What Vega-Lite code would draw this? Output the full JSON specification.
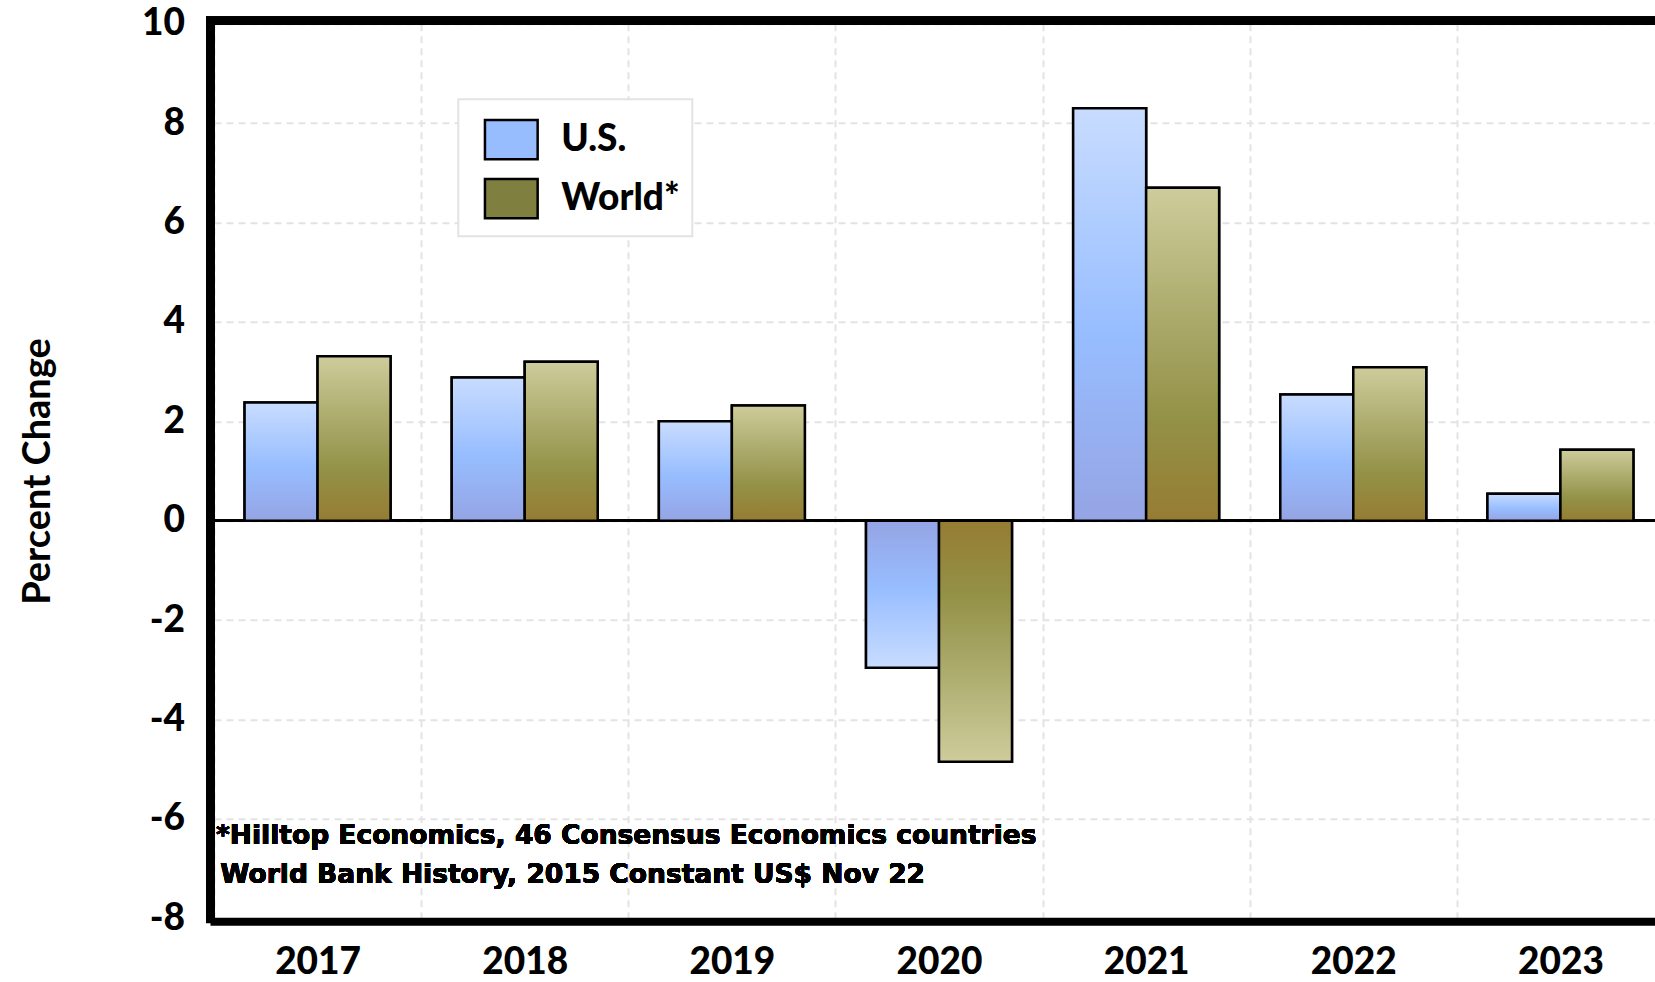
{
  "$schema": "https://vega.github.io/schema/vega-lite/v6.json",
  "autosize": {"type": "none"},
  "width": 1445,
  "height": 894.6,
  "padding": {"left": 210, "top": 23.7, "right": 0, "bottom": 63.7},
  "background": "white",
  "config": {
    "view": {"stroke": null},
    "font": "Lato",
    "legend": {
      "orient": "none",
      "legendX": 248.3,
      "legendY": 75.6,
      "direction": "vertical",
      "padding": 12.3,
      "strokeColor": "#e3e3e3",
      "strokeWidth": 2,
      "fillColor": "white",
      "symbolType": "M-1,-0.745H1V0.745H-1Z",
      "symbolSize": 2777,
      "symbolStrokeColor": "black",
      "symbolStrokeWidth": 2.5,
      "symbolOffset": 12.7,
      "labelFont": "Lato",
      "labelFontSize": 37,
      "labelFontWeight": 900,
      "labelColor": "black",
      "labelOffset": 22,
      "rowPadding": 6,
      "labelLimit": 400
    }
  },
  "data": {
    "values": [
      {"year": "2017", "series": "U.S.", "value": 2.38},
      {"year": "2017", "series": "World*", "value": 3.31},
      {"year": "2018", "series": "U.S.", "value": 2.88},
      {"year": "2018", "series": "World*", "value": 3.2},
      {"year": "2019", "series": "U.S.", "value": 2.0},
      {"year": "2019", "series": "World*", "value": 2.32},
      {"year": "2020", "series": "U.S.", "value": -2.96},
      {"year": "2020", "series": "World*", "value": -4.85},
      {"year": "2021", "series": "U.S.", "value": 8.3},
      {"year": "2021", "series": "World*", "value": 6.7},
      {"year": "2022", "series": "U.S.", "value": 2.54},
      {"year": "2022", "series": "World*", "value": 3.09},
      {"year": "2023", "series": "U.S.", "value": 0.54},
      {"year": "2023", "series": "World*", "value": 1.43}
    ]
  },
  "layer": [
    {
      "mark": {"type": "rule", "color": "black", "strokeWidth": 2},
      "encoding": {
        "y": {"datum": 0, "type": "quantitative", "scale": {"domain": [-8, 10], "nice": false, "zero": true}}
      }
    },
    {
      "mark": {"type": "rule", "color": "black", "strokeWidth": 8, "strokeCap": "square", "yOffset": -3},
      "encoding": {
        "y": {"datum": 10, "type": "quantitative"}
      }
    },
    {
      "mark": {"type": "bar", "stroke": "black", "strokeWidth": 2.5},
      "encoding": {
        "x": {
          "field": "year",
          "type": "nominal",
          "scale": {"range": [4, 1454], "paddingInner": 0, "paddingOuter": 0},
          "axis": {
            "title": null,
            "orient": "bottom",
            "offset": 3,
            "domain": true,
            "domainColor": "black",
            "domainWidth": 8,
            "domainCap": "square",
            "ticks": false,
            "tickSize": 0,
            "tickBand": "extent",
            "labelAngle": 0,
            "labelFont": "Lato",
            "labelFontSize": 37,
            "labelFontWeight": 900,
            "labelColor": "black",
            "labelPadding": 23,
            "grid": true,
            "gridColor": "#e3e3e3",
            "gridWidth": 2,
            "gridDash": [7, 5]
          }
        },
        "xOffset": {"field": "series", "type": "nominal", "scale": {"paddingInner": 0, "paddingOuter": 0.419}},
        "y": {
          "field": "value",
          "type": "quantitative",
          "axis": {
            "title": "Percent Change",
            "values": [-8, -6, -4, -2, 0, 2, 4, 6, 8, 10],
            "labelExpr": "'' + datum.value",
            "domain": true,
            "domainColor": "black",
            "domainWidth": 9,
            "domainCap": "square",
            "ticks": false,
            "tickSize": 0,
            "labelFont": "Lato",
            "labelFontSize": 37,
            "labelFontWeight": 900,
            "labelColor": "black",
            "labelPadding": 25.5,
            "labelOverlap": false,
            "grid": true,
            "gridColor": "#e3e3e3",
            "gridWidth": 2,
            "gridDash": [7, 5],
            "titleFont": "Lato",
            "titleFontSize": 38,
            "titleFontWeight": "bold",
            "titleColor": "black",
            "titleAngle": 270,
            "titleAlign": "center",
            "titleBaseline": "alphabetic",
            "titleX": -160.7,
            "titleY": 447.3
          }
        },
        "color": {
          "field": "series",
          "type": "nominal",
          "scale": {"domain": ["U.S.", "World*"], "range": ["#97bdff", "#7f7f40"]},
          "legend": {"title": null}
        }
      }
    },
    {
      "mark": {"type": "bar", "stroke": "black", "strokeWidth": 2.5},
      "encoding": {
        "x": {"field": "year", "type": "nominal"},
        "xOffset": {"field": "series", "type": "nominal"},
        "y": {"field": "value", "type": "quantitative"},
        "fill": {
          "condition": [
            {
              "test": "datum.series === 'U.S.' && datum.value < 0",
              "value": {
                "gradient": "linear", "x1": 0, "y1": 1, "x2": 0, "y2": 0,
                "stops": [
                  {"offset": 0, "color": "#c8dcff"},
                  {"offset": 0.55, "color": "#97bdff"},
                  {"offset": 1, "color": "#95a4e4"}
                ]
              }
            },
            {
              "test": "datum.series === 'U.S.'",
              "value": {
                "gradient": "linear", "x1": 0, "y1": 0, "x2": 0, "y2": 1,
                "stops": [
                  {"offset": 0, "color": "#c8dcff"},
                  {"offset": 0.55, "color": "#97bdff"},
                  {"offset": 1, "color": "#95a4e4"}
                ]
              }
            },
            {
              "test": "datum.value < 0",
              "value": {
                "gradient": "linear", "x1": 0, "y1": 1, "x2": 0, "y2": 0,
                "stops": [
                  {"offset": 0, "color": "#cecc9b"},
                  {"offset": 0.45, "color": "#a6a564"},
                  {"offset": 0.7, "color": "#939146"},
                  {"offset": 1, "color": "#967c33"}
                ]
              }
            }
          ],
          "value": {
            "gradient": "linear", "x1": 0, "y1": 0, "x2": 0, "y2": 1,
            "stops": [
              {"offset": 0, "color": "#cecc9b"},
              {"offset": 0.45, "color": "#a6a564"},
              {"offset": 0.7, "color": "#939146"},
              {"offset": 1, "color": "#967c33"}
            ]
          }
        }
      }
    },
    {
      "mark": {
        "type": "text",
        "text": "*Hilltop Economics, 46 Consensus Economics countries",
        "font": "DejaVu Sans",
        "fontSize": 26.5,
        "fontWeight": "bold",
        "color": "black",
        "align": "left",
        "baseline": "alphabetic",
        "dx": -101.6
      },
      "encoding": {
        "x": {"datum": "2017", "type": "nominal"},
        "y": {"datum": -6.51, "type": "quantitative"}
      }
    },
    {
      "mark": {
        "type": "text",
        "text": "World Bank History, 2015 Constant US$  Nov 22",
        "font": "DejaVu Sans",
        "fontSize": 26.5,
        "fontWeight": "bold",
        "color": "black",
        "align": "left",
        "baseline": "alphabetic",
        "dx": -97.3
      },
      "encoding": {
        "x": {"datum": "2017", "type": "nominal"},
        "y": {"datum": -7.28, "type": "quantitative"}
      }
    }
  ]
}
